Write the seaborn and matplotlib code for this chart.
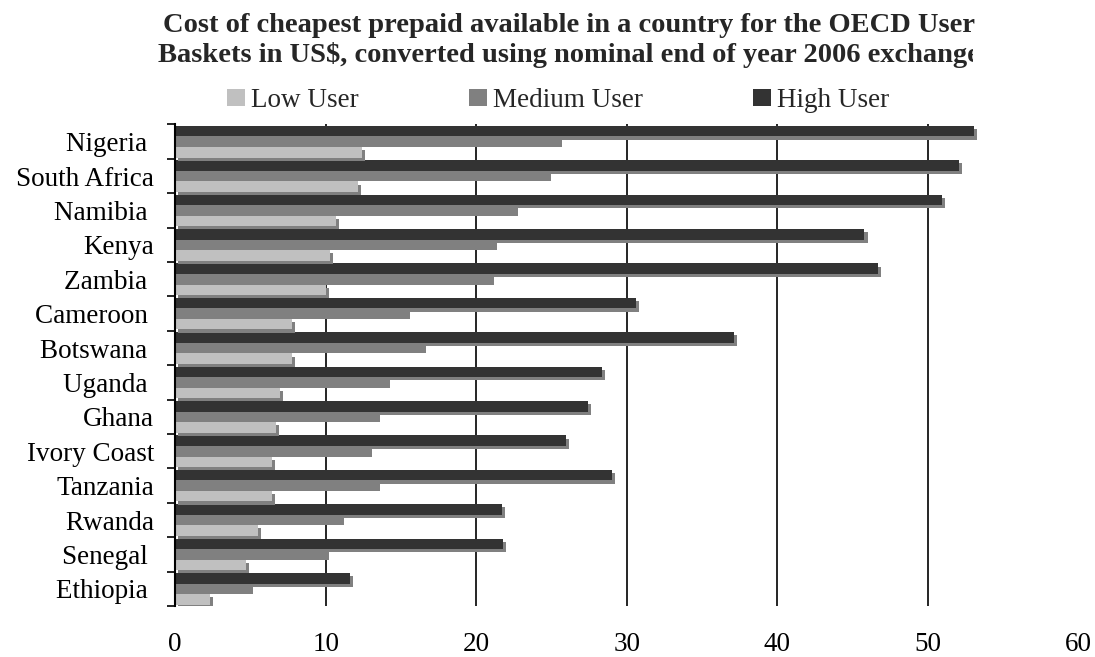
import matplotlib
matplotlib.use("Agg")
import matplotlib.pyplot as plt
import matplotlib.patheffects as pe
from matplotlib.colors import to_hex
from matplotlib.patches import Patch
from matplotlib.transforms import Bbox, TransformedBbox
import pandas as pd
import seaborn as sns

# data (US$)
countries = ["Nigeria ", "South Africa", "Namibia ", "Kenya", "Zambia ", "Cameroon ",
             "Botswana ", "Uganda ", "Ghana", "Ivory Coast", "Tanzania", "Rwanda",
             "Senegal ", "Ethiopia "]
low_user = [12.4, 12.15, 10.7, 10.3, 10.0, 7.75, 7.75, 6.95, 6.7, 6.45, 6.45, 5.5, 4.7, 2.3]
medium_user = [25.7, 25.0, 22.75, 21.4, 21.2, 15.6, 16.65, 14.25, 13.6, 13.05, 13.6, 11.2, 10.25, 5.2]
high_user = [53.1, 52.1, 50.95, 45.8, 46.7, 30.6, 37.1, 28.35, 27.4, 25.95, 29.0, 21.7, 21.8, 11.6]
series = ["Low User", "Medium User", "High User"]
colors = {"Low User": "#c0c0c0", "Medium User": "#808080", "High User": "#333333"}
x_ticks = [0, 10, 20, 30, 40, 50, 60]
title_lines = ["Cost of cheapest prepaid available in a country for the OECD User",
               "Baskets in US$, converted using nominal end of year 2006 exchange"]

df = pd.DataFrame({
    "country": countries * 3,
    "user": [s for s in series for _ in countries],
    "cost": low_user + medium_user + high_user,
})

sns.set_style("white")
plt.rcParams["font.family"] = ["Liberation Serif", "DejaVu Serif"]

W, H = 1095, 657
fig = plt.figure(figsize=(W / 100, H / 100), dpi=100)
ax = fig.add_axes([175.2 / W, 1 - 606 / H, 903 / W, 481.5 / H])

sns.barplot(data=df, x="cost", y="country", hue="user", order=countries,
            hue_order=["High User", "Medium User", "Low User"], palette=colors,
            orient="h", width=0.92, saturation=1, linewidth=0, legend=False, ax=ax)

# Excel style drop shadow on the high and low bars
shadow = [pe.SimplePatchShadow(offset=(2.2, -2.3), shadow_rgbFace="#808080", alpha=1.0), pe.Normal()]
for bar in ax.patches:
    fc = to_hex(bar.get_facecolor())
    if fc in (colors["High User"], colors["Low User"]):
        bar.set_path_effects(shadow)

ax.set_xlim(0, 60)
ax.set_ylim(len(countries) - 0.5, -0.5)
ax.set_xticks(x_ticks)
ax.set_xlabel("")
ax.set_ylabel("")
ax.tick_params(axis="x", length=0, pad=19, labelsize=19.5, colors="black")
ax.tick_params(axis="y", which="major", length=0, pad=15, labelsize=19.5, colors="black")
ax.set_yticks([i - 0.5 for i in range(len(countries) + 1)], minor=True)
ax.tick_params(axis="y", which="minor", length=6, width=1.2, direction="out", color="black", left=True)

ax.grid(axis="x", color="black", linewidth=1.2)
ax.xaxis.get_gridlines()[0].set_visible(False)
ax.xaxis.get_gridlines()[-1].set_visible(False)
ax.set_axisbelow(True)
for side in ["top", "right", "bottom"]:
    ax.spines[side].set_visible(False)
ax.spines["left"].set_color("black")
ax.spines["left"].set_linewidth(1.5)

# title: second line is cut off at the right in the original chart box
fig.text(569 / W, 1 - 32 / H, title_lines[0], ha="center", va="baseline",
         fontsize=20.5, fontweight="bold")
t = fig.text(569 / W, 1 - 62 / H, title_lines[1], ha="center", va="baseline",
             fontsize=20.5, fontweight="bold")
t.set_clip_box(TransformedBbox(Bbox.from_extents(0, 0, 973 / W, 1), fig.transFigure))
t.set_clip_on(True)

handles = [Patch(facecolor=colors[s], edgecolor="none", label=s) for s in series]
fig.legend(handles=handles, loc="center left", bbox_to_anchor=(227 / W, 1 - 100.5 / H),
           ncol=3, frameon=False, fontsize=19.5, handlelength=0.67, handleheight=0.58,
           handletextpad=0.22, columnspacing=4.07, borderpad=0, borderaxespad=0)

fig.savefig("out.png", dpi=100)
